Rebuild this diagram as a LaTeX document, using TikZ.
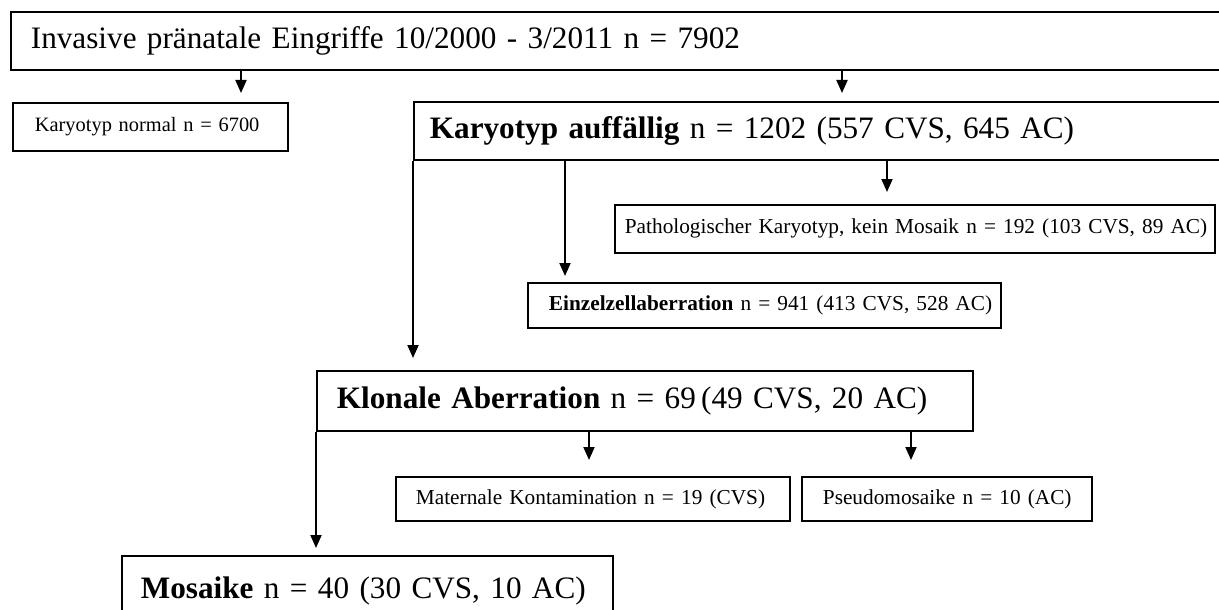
\documentclass[tikz,border=0pt]{standalone}
\usepackage{fontspec}
\setmainfont{Liberation Serif}
\usetikzlibrary{arrows.meta,positioning}
\tikzset{
  box/.style={draw, line width=1.8pt, anchor=north west, inner ysep=0pt, align=left},
  big/.style={font=\fontsize{31.2}{36}\selectfont},
  small/.style={font=\fontsize{21.3}{25}\selectfont},
  arrow/.style={line width=1.9pt, -{Triangle[width=11pt,length=13pt]}}
}

\begin{document}
\begin{tikzpicture}[x=1pt, y=-1pt]
    \useasboundingbox (0,0) rectangle (1219,610);
    \clip (0,0) rectangle (1219,610);

    % Top
    \node[box, big, inner xsep=20pt, text width=1250pt, minimum height=58pt] (title) at (10,11) {Invasive pränatale Eingriffe 10/2000 - 3/2011 n = 7902};

    % Second row
    \node[box, small, font=\fontsize{20.4}{24}\selectfont, inner xsep=22pt, text width=231pt, minimum height=48pt] (normal) at (12,102) {\mbox{Karyotyp normal n = 6700}};
    \node[box, big, inner xsep=16pt, text width=900pt, minimum height=58pt] (auff) at (413,101) {\textbf{Karyotyp auffällig} n = 1202 (557 CVS, 645 AC)};

    % Below Karyotyp auffaellig
    \node[box, small, inner xsep=10pt, text width=580pt, minimum height=48pt] (patho) at (614,204) {\mbox{Pathologischer Karyotyp, kein Mosaik n = 192 (103 CVS, 89 AC)}};
    \node[box, small, inner xsep=21pt, text width=431pt, minimum height=45pt] (einzel) at (527,282) {\mbox{\textbf{Einzelzellaberration} n = 941 (413 CVS, 528 AC)}};

    % Klonale
    \node[box, big, inner xsep=20pt, text width=616pt, minimum height=60pt] (klonal) at (316,370) {\mbox{\textbf{Klonale Aberration} n = 69\,(49 CVS, 20 AC)}};
    \node[box, small, inner xsep=20pt, text width=354pt, minimum height=44pt] (matern) at (395,476) {\mbox{Maternale Kontamination n = 19 (CVS)}};
    \node[box, small, inner xsep=21pt, text width=248pt, minimum height=44pt] (pseudo) at (801,476) {\mbox{Pseudomosaike n = 10 (AC)}};

    % Bottom
    \node[box, big, inner xsep=19pt, text width=453pt, minimum height=70pt] (mosaik) at (121,555) {\mbox{\textbf{Mosaike} n = 40 (30 CVS, 10 AC)}};

    % Arrows
    \coordinate (x1) at (241,0);
    \coordinate (x2) at (842,0);
    \coordinate (x3) at (887,0);
    \coordinate (x4) at (565,0);
    \coordinate (x5) at (589,0);
    \coordinate (x6) at (911,0);
    \draw[arrow, shorten >=9pt] (title.south -| x1) -- (normal.north -| x1);
    \draw[arrow, shorten >=8pt] (title.south -| x2) -- (auff.north -| x2);
    \draw[arrow, shorten >=12pt] (auff.south -| x3) -- (patho.north -| x3);
    \draw[arrow, shorten >=6pt] (auff.south -| x4) -- (einzel.north -| x4);
    \draw[arrow, shorten >=12pt] (auff.south west) -- (klonal.north -| auff.south west);
    \draw[arrow, shorten >=16pt] (klonal.south -| x5) -- (matern.north -| x5);
    \draw[arrow, shorten >=16pt] (klonal.south -| x6) -- (pseudo.north -| x6);
    \draw[arrow, shorten >=7pt] (klonal.south west) -- (mosaik.north -| klonal.south west);
\end{tikzpicture}
\end{document}
